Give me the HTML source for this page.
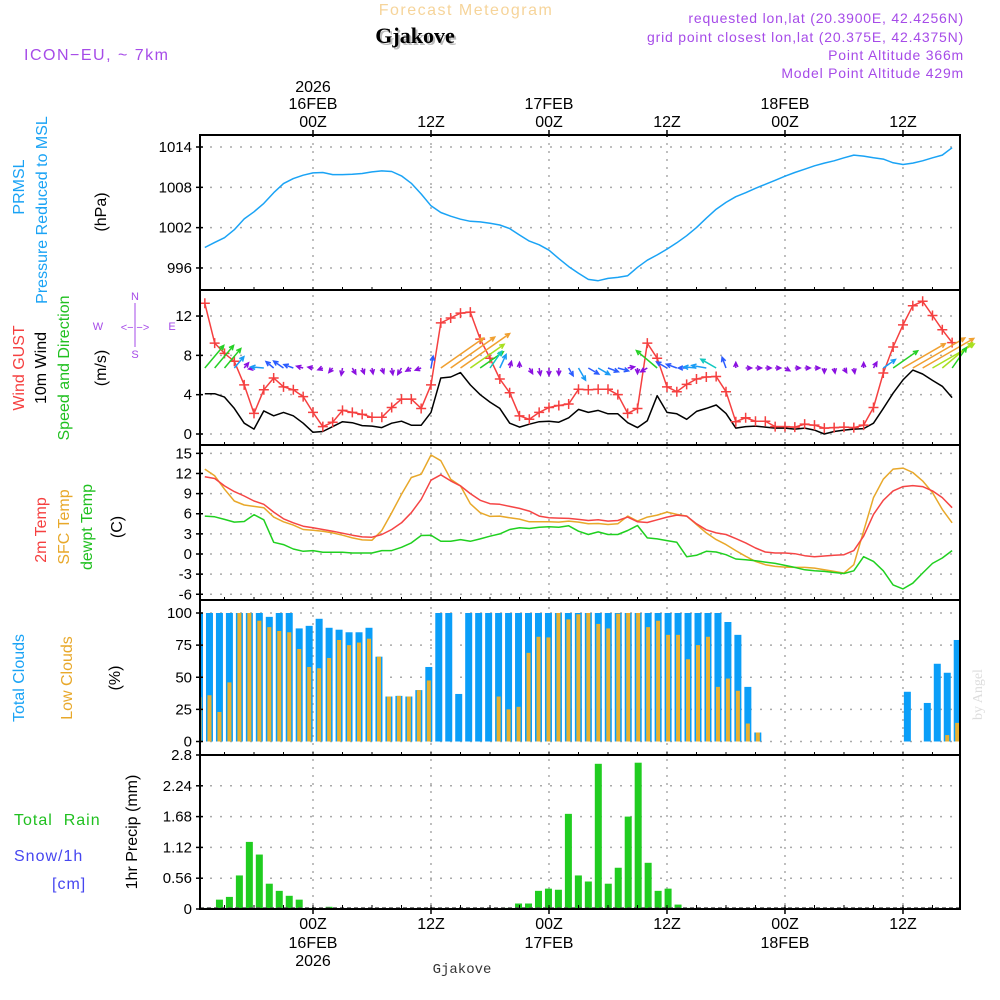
<!DOCTYPE html>
<html><head><meta charset="utf-8">
<style>
html,body{margin:0;padding:0;background:#fff;}
svg{display:block;font-family:"Liberation Sans",sans-serif;}
</style></head>
<body>
<svg id="chart" width="1000" height="1000" viewBox="0 0 1000 1000">
<text x="466" y="15" font-size="16" fill="#f6d49a" text-anchor="middle" letter-spacing="1.5">Forecast Meteogram</text>
<text x="417" y="45" font-size="22" font-weight="bold" font-family="Liberation Serif,serif" fill="#bbb" text-anchor="middle">Gjakove</text>
<text x="415" y="43" font-size="22" font-weight="bold" font-family="Liberation Serif,serif" fill="#000" text-anchor="middle">Gjakove</text>
<g font-size="14" fill="#a64be8" text-anchor="end" letter-spacing="0.8">
<text x="964" y="23">requested lon,lat (20.3900E, 42.4256N)</text>
<text x="964" y="42">grid point closest lon,lat (20.375E, 42.4375N)</text>
<text x="964" y="60">Point Altitude 366m</text>
<text x="964" y="78">Model Point Altitude 429m</text>
</g>
<text x="24" y="60" font-size="16" fill="#a64be8" letter-spacing="1.5">ICON−EU, ~ 7km</text>
<text transform="translate(982,720) rotate(-90)" font-size="14" fill="#ddd" font-family="Liberation Serif,serif">by Angel</text>
<text x="462" y="973" font-size="14" fill="#333" font-family="Liberation Mono,monospace" text-anchor="middle">Gjakove</text>
<g id="grid"></g>
<g id="marks"></g>
<g id="axes"></g>
<g id="labels" font-size="15"></g>
</svg>
<script>
// ---- data (hourly, 13Z 15FEB .. 18Z 18FEB) ----
const pressure = [999.05,999.8,1000.5,1001.7,1003.3,1004.35,1005.6,1007.2,1008.55,1009.3,1009.8,1010.15,1010.2,1009.9,1009.9,1009.95,1010.05,1010.3,1010.45,1010.35,1009.7,1008.6,1007.0,1005.25,1004.25,1003.7,1003.25,1002.95,1002.85,1002.65,1002.4,1001.85,1000.9,1000.0,999.45,998.65,997.4,996.2,995.2,994.3,994.1,994.45,994.6,994.85,996.1,997.15,997.95,998.8,999.75,1000.8,1002.0,1003.4,1004.75,1005.75,1006.6,1007.2,1007.85,1008.45,1009.05,1009.65,1010.2,1010.7,1011.2,1011.6,1011.95,1012.4,1012.8,1012.65,1012.4,1012.2,1011.65,1011.4,1011.6,1011.95,1012.4,1012.8,1013.9];
const gust = [13.3,9.25,8.2,7.4,5.0,2.1,4.5,5.7,4.8,4.5,3.8,2.2,0.75,1.2,2.4,2.2,2.0,1.7,1.7,2.7,3.55,3.55,2.6,5.0,11.3,11.8,12.3,12.4,9.65,7.7,5.6,4.2,1.85,1.5,2.2,2.7,2.9,3.05,4.55,4.5,4.55,4.55,4.0,2.1,2.6,9.25,7.7,4.8,4.3,5.05,5.6,5.8,5.85,4.3,1.25,1.65,1.3,1.3,0.75,0.75,0.7,1.0,0.9,0.6,0.65,0.7,0.65,0.9,2.7,6.2,8.85,11.1,13.05,13.5,12.05,10.6,9.3];
const speed = [4.1,4.1,3.75,2.6,1.1,0.5,2.35,1.85,2.2,1.85,1.1,0.17,0.25,0.75,1.25,1.15,0.85,0.8,0.65,1.1,1.3,0.9,0.9,2.2,5.7,5.8,6.25,5.0,4.0,3.25,2.6,1.1,0.7,1.0,1.25,1.3,1.2,1.65,2.5,2.2,2.4,2.05,2.05,1.15,0.65,1.35,3.9,2.2,2.05,1.5,2.3,2.6,2.95,2.1,0.6,0.75,0.8,0.7,0.6,0.6,0.5,0.6,0.4,0.0,0.25,0.4,0.5,0.55,1.1,2.6,4.15,5.5,6.5,6.1,5.45,4.85,3.7];
const windDir = [50,50,50,50,50, 190,175,140,145,160,165,170, 200,230,260,300,290,280,290,280,240,210,200, 80, 35,35,35,35,35, 55,65,75,90, 300,280,270,270,300,300,330, 330,340,345,10,270, 210,140,150,160,180,175,170,150,110,90, 0,0,0,0,330,0,0,0,270,280,300,280, 90,60,35,35,30,30,30,30,40,55];
const temp2m = [11.5,11.25,10.15,9.3,8.65,7.9,7.4,6.25,5.25,4.65,4.15,3.9,3.65,3.4,3.1,2.8,2.55,2.5,2.9,3.65,4.65,6.15,8.15,11,11.8,10.9,10.15,9,8,7.5,7.4,7.1,6.8,6.4,5.65,5.4,5.35,5.3,5.15,5.0,5.1,4.9,5.0,5.5,4.8,4.7,5.1,5.5,5.8,5.65,4.5,3.6,3.15,2.9,2.3,1.65,0.9,0.3,0.15,0.15,0.05,-0.25,-0.4,-0.3,-0.2,-0.1,0.5,2.65,5.9,8,9.4,10.05,10.2,10.05,9.4,8.4,6.9];
const tempSfc = [12.65,11.65,9.65,7.9,7.3,7.1,6.9,5.5,4.8,4.3,3.65,3.55,3.4,3.15,2.8,2.4,2.1,2.05,3.5,6.15,8.9,11.4,11.9,14.75,13.9,11.15,10.15,7.5,6.15,5.6,5.65,5.4,5.2,4.8,4.8,4.8,4.75,4.9,4.75,4.5,4.55,4.4,4.5,5.65,4.9,5.5,5.8,6.25,5.9,5.65,4.4,3.15,2.15,1.4,0.5,-0.35,-1.1,-1.6,-1.85,-1.95,-2.0,-2.0,-2.1,-2.35,-2.6,-2.85,-1.6,3.4,8.4,11.15,12.65,12.8,12.15,10.9,9.15,6.65,4.65];
const dewpoint = [5.65,5.55,5.15,4.75,4.85,5.85,5.1,1.75,1.4,0.75,0.4,0.5,0.25,0.25,0.25,0.15,0.15,0.15,0.5,0.5,1.0,1.65,2.75,2.8,1.9,1.9,2.15,1.9,2.25,2.65,3.0,3.65,3.9,3.8,4.0,4.05,4.0,4.2,3.4,2.9,3.3,2.9,2.9,3.5,4.25,2.4,2.25,2.0,1.75,-0.4,-0.2,0.4,0.3,-0.1,-0.75,-0.85,-1.0,-1.2,-1.4,-1.7,-2.0,-2.35,-2.5,-2.6,-2.75,-2.9,-2.5,-0.4,-1.1,-2.5,-4.6,-5.2,-4.35,-2.85,-1.4,-0.6,0.5];
const totalCloud = [100,100,100,100,100,100,100,97,100,100,88,90,95.5,88.5,87,85,85,88.5,66,35,35.5,35,40,58,100,100,37,100,100,100,100,100,100,100,100,100,100,100,100,100,100,100,100,100,100,100,100,100,100,100,100,100,100,93,83,42.5,7,0,0,0,0,0,0,0,0,0,0,0,0,0,0,38.7,0,30,60.5,53.5,79];
const lowCloud = [34.5,36,23,46,100,100,94,89,86,85,72,58,57,65,79,75,77,80,66,35,35.5,35,40,47.5,0,0,0,0,0,0,35,25,27,69,81.5,81,100,95,99,100,91.5,88,99.5,100,100,89,94,83,83,64,75,81.5,42.5,49,39.5,14,7,0,0,0,0,0,0,0,0,0,0,0,0,0,0,0,0,0,0,5,14.5];
const precip = [0,0.02,0.17,0.22,0.61,1.22,0.99,0.46,0.33,0.24,0.17,0.02,0,0.04,0,0,0,0,0,0,0,0,0,0,0,0,0,0,0,0,0,0.02,0.1,0.1,0.33,0.37,0.35,1.73,0.61,0.5,2.64,0.46,0.75,1.68,2.66,0.84,0.33,0.37,0.08,0.02,0,0,0,0,0,0,0,0,0,0,0,0,0,0,0,0,0,0,0,0,0,0,0,0,0,0,0];
const pressTicks = [1014,1008,1002,996];
const windTicks = [0,4,8,12];
const tempTicks = [-6,-3,0,3,6,9,12,15];
const cloudTicks = [0,25,50,75,100];
const precipTicks = [0,0.56,1.12,1.68,2.24,2.8];
const timeTicks = [0,12,24,36,48,60];
const timeLabels = ["00Z","12Z","00Z","12Z","00Z","12Z"];
const dayLabels = ["16FEB","","17FEB","","18FEB",""];
const startHour = -11;

const NS="http://www.w3.org/2000/svg";
const L=200,R=960;
const X=h=>313+h*9.833;
const XB=i=>199.5+i*9.97;
const YP=p=>147+(1014-p)*6.72;
const YW=v=>434-v*9.83;
const YT=t=>554-t*6.71;
const YC=c=>741.5-c*1.285;
const YR=m=>909-m*55;
function mk(tag,attrs,parent){const e=document.createElementNS(NS,tag);for(const k in attrs)e.setAttribute(k,attrs[k]);parent.appendChild(e);return e;}
const grid=document.getElementById('grid'),marks=document.getElementById('marks'),axes=document.getElementById('axes'),labels=document.getElementById('labels');
const panels=[[135,290],[290,445],[445,600],[600,755],[755,909]];
timeTicks.forEach(h=>{const e=mk('line',{x1:X(h),x2:X(h),y1:135,y2:909,stroke:'#aaa','stroke-width':1.5,'stroke-dasharray':'2,6'},grid);

});
function hgrid(ticks,Y,fmt,name){ticks.forEach(t=>{const y=Y(t);
const g=mk('line',{x1:L,x2:R,y1:y,y2:y,stroke:'#aaa','stroke-width':1.5,'stroke-dasharray':'2,8'},grid);


mk('line',{x1:L-4,x2:L+3,y1:y,y2:y,stroke:'#000','stroke-width':1.5},axes);
const tx=mk('text',{x:L-8,y:y+5,'text-anchor':'end','font-size':15},labels);tx.textContent=fmt(t);

});}
hgrid(pressTicks,YP,String,'pressure');
hgrid(windTicks,YW,String,'wind');
hgrid(tempTicks,YT,String,'temp');
hgrid(cloudTicks,YC,String,'cloud');
hgrid(precipTicks,YR,String,'precip');
panels.forEach(([a,b],i)=>{const r=mk('rect',{x:L,y:a,width:R-L,height:b-a,fill:'none',stroke:'#000','stroke-width':2},axes);

});
timeTicks.forEach((h,i)=>{const x=X(h);
mk('line',{x1:x,x2:x,y1:130,y2:137,stroke:'#000','stroke-width':1.5},axes);
mk('line',{x1:x,x2:x,y1:907,y2:914,stroke:'#000','stroke-width':1.5},axes);
let t=mk('text',{x:x,y:127,'text-anchor':'middle','font-size':16},labels);t.textContent=timeLabels[i];


t=mk('text',{x:x,y:929,'text-anchor':'middle','font-size':16},labels);t.textContent=timeLabels[i];


if(dayLabels[i]){t=mk('text',{x:x,y:109,'text-anchor':'middle','font-size':16},labels);t.textContent=dayLabels[i];


t=mk('text',{x:x,y:948,'text-anchor':'middle','font-size':16},labels);t.textContent=dayLabels[i];

}
if(i===0){t=mk('text',{x:x,y:92,'text-anchor':'middle','font-size':16},labels);t.textContent='2026';


t=mk('text',{x:x,y:966,'text-anchor':'middle','font-size':16},labels);t.textContent='2026';

}});
for(let h=startHour;h<=65;h++){if(h%3===0){const x=X(h);mk('line',{x1:x,x2:x,y1:905,y2:909,stroke:'#000','stroke-width':1},axes);
[290,445,600,755].forEach(y=>mk('line',{x1:x,x2:x,y1:y-3,y2:y,stroke:'#000','stroke-width':1},axes));}}
function line(arr,Y,color,name,w){const d=arr.map((v,i)=>(i?'L':'M')+X(startHour+i).toFixed(1)+','+Y(v).toFixed(1)).join('');
const p=mk('path',{d:d,fill:'none',stroke:color,'stroke-width':w||1.5,'stroke-linejoin':'round'},marks);

}
line(pressure,YP,'#1aa3f5','pressure-line');
line(speed,YW,'#000','wind-speed-line');
line(gust,YW,'#f54040','wind-gust-line');
gust.forEach((v,i)=>{const x=X(startHour+i),y=YW(v);
const g=mk('path',{d:`M${x-5},${y}H${x+5}M${x},${y-5}V${y+5}`,stroke:'#f54040','stroke-width':1.5},marks);

});
line(tempSfc,YT,'#e8a82a','sfc-temp-line');
line(temp2m,YT,'#f54545','temp-2m-line');
line(dewpoint,YT,'#20d020','dewpoint-line');
function wcol(s){if(s<1.5)return'#8a10e0';if(s<2.3)return'#2b5cff';if(s<2.8)return'#1a9cf5';if(s<3.5)return'#10c8c0';if(s<4.6)return'#25d025';if(s<5.5)return'#a8e020';return'#f0a030';}
windDir.forEach((d,i)=>{const s=speed[i];const len=Math.min(60,5+1.45*s*s);const a=d*Math.PI/180;
const x0=X(startHour+i),y0=368,x1=x0+len*Math.cos(a),y1=y0-len*Math.sin(a);
const hl=5,b1=a+Math.PI-0.45,b2=a+Math.PI+0.45;
const p=mk('path',{d:`M${x0},${y0}L${x1},${y1}M${x1+hl*Math.cos(b1)},${y1-hl*Math.sin(b1)}L${x1},${y1}L${x1+hl*Math.cos(b2)},${y1-hl*Math.sin(b2)}`,stroke:wcol(s),'stroke-width':1.5,fill:'none'},marks);

});
totalCloud.forEach((v,i)=>{const xc=XB(i);
if(v>0){const x=Math.max(L+1,xc-3.5),w=Math.min(xc+3.5,R-1)-x;
const r=mk('rect',{x:x,y:YC(v),width:w,height:YC(0)-YC(v),fill:'#0a9ef8'},marks);

}
const lv=lowCloud[i];if(lv>0){const x=Math.max(L+1,xc-2),w=Math.min(xc+2,R-1)-x;
const r=mk('rect',{x:x,y:YC(lv),width:w,height:YC(0)-YC(lv),fill:'#e8b030'},marks);

}});
precip.forEach((v,i)=>{if(v<=0)return;const xc=XB(i);
const r=mk('rect',{x:xc-3.5,y:YR(v),width:7,height:YR(0)-YR(v),fill:'#20cc20'},marks);

});
mk('line',{x1:L,x2:R,y1:908,y2:908,stroke:'#555','stroke-width':1.5,'stroke-dasharray':'4,3'},marks);
function vlab(x,y,txt,col,name,size){const t=mk('text',{transform:`translate(${x},${y}) rotate(-90)`,'text-anchor':'middle',fill:col,'font-size':size||16},labels);t.textContent=txt;

}
vlab(24,187,'PRMSL','#1aa3f5','prmsl-label');
vlab(47,210,'Pressure Reduced to MSL','#1aa3f5','pressure-title');
vlab(106,212,'(hPa)','#000','pressure-unit');
vlab(24,368,'Wind GUST','#f54040','gust-label');
vlab(46,368,'10m Wind','#000','wind-label');
vlab(69,368,'Speed and Direction','#20c020','wind-direction-label');
vlab(106,368,'(m/s)','#000','wind-unit');
vlab(46,530,'2m Temp','#f54040','temp-2m-label');
vlab(69,527,'SFC Temp','#e8a82a','sfc-temp-label');
vlab(92,527,'dewpt Temp','#20c020','dewpoint-label');
vlab(122,527,'(C)','#000','temp-unit');
vlab(24,678,'Total Clouds','#1aa3f5','total-clouds-label');
vlab(72,678,'Low Clouds','#e8a82a','low-clouds-label');
vlab(120,678,'(%)','#000','cloud-unit');
vlab(137,832,'1hr Precip (mm)','#000','precip-unit');
function hlab(x,y,txt,col,name){const t=mk('text',{x:x,y:y,fill:col,'font-size':16,'letter-spacing':'1'},labels);t.textContent=txt;

}
hlab(14,825,'Total\u00a0\u00a0Rain','#20c020','rain-label');
hlab(14,861,'Snow/1h','#4646f0','snow-label');
hlab(52,889,'[cm]','#4646f0','snow-unit');
const cg=mk('g',{fill:'#a64be8','font-size':11,'text-anchor':'middle'},labels);


[['N',135,300],['S',135,358],['W',98,330],['E',172,330],['<−|−>',135,331]].forEach(([s,x,y])=>{const t=mk('text',{x:x,y:y},cg);t.textContent=s;});
mk('line',{x1:135,x2:135,y1:303,y2:347,stroke:'#a64be8','stroke-width':1},cg);
</script>
</body></html>
